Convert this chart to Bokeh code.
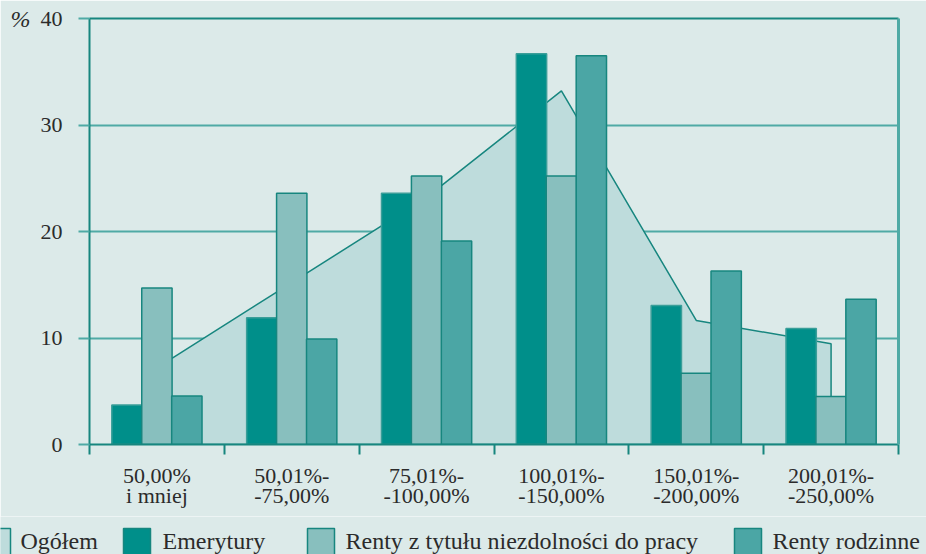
import numpy as np
from bokeh.plotting import figure
from bokeh.models import Range1d, FixedTicker, LinearAxis
from bokeh.layouts import column, row
from bokeh.embed import file_html
from bokeh.resources import INLINE
from bokeh.core.properties import value

# ---- data ----
categories = ["50,00%\ni mniej", "50,01%-\n-75,00%", "75,01%-\n-100,00%",
              "100,01%-\n-150,00%", "150,01%-\n-200,00%", "200,01%-\n-250,00%"]
ogolem = [7.2, 15.2, 23.2, 33.2, 11.65, 9.45]
emerytury = [3.7, 11.9, 23.6, 36.7, 13.05, 10.9]
renty_niezd = [14.7, 23.6, 25.2, 25.2, 6.7, 4.5]
renty_rodz = [4.55, 9.9, 19.1, 36.5, 16.3, 13.65]
y_ticks = [0, 10, 20, 30, 40]
unit_label = "%"
series_names = ["Ogółem", "Emerytury", "Renty z tytułu niezdolności do pracy", "Renty rodzinne"]

# ---- style ----
BG = "#DCEAE9"
EMER = "#008F8A"
NIEZD = "#88BFBE"
RODZ = "#4BA6A5"
OGOL = "#BEDCDC"
EDGE = "#17867F"
EDGE_LIGHT = "#3A9E99"
GRID = "#4FAAA5"
FONT = "Liberation Serif"
TXT = "#2B2B2B"

n = len(categories)
centers = np.arange(n) + 0.5

p = figure(width=926, height=516, x_range=Range1d(0, n), y_range=Range1d(0, 40),
           output_backend="svg", toolbar_location=None,
           min_border_left=89, min_border_right=28, min_border_top=18, min_border_bottom=72,
           background_fill_color=BG, border_fill_color=BG, outline_line_color=None)

# grid
p.xgrid.visible = False
p.ygrid.ticker = FixedTicker(ticks=y_ticks[1:])
p.ygrid.grid_line_color = GRID
p.ygrid.grid_line_width = 2

# area (Ogółem)
ax = np.concatenate([[centers[0]], centers, [centers[-1]]])
ay = np.concatenate([[0], ogolem, [0]])
p.patch(ax, ay, fill_color=OGOL, line_color=EDGE, line_width=1.5)

# bars
w = 0.225
off = 0.222
p.vbar(x=centers - off, top=emerytury, width=w, fill_color=EMER, line_color=EDGE_LIGHT, line_width=1.5)
p.vbar(x=centers, top=renty_niezd, width=w, fill_color=NIEZD, line_color=EDGE, line_width=1.5)
p.vbar(x=centers + off, top=renty_rodz, width=w, fill_color=RODZ, line_color=EDGE, line_width=1.5)

# x axis
xa = p.xaxis[0]
xa.ticker = FixedTicker(ticks=list(centers), minor_ticks=list(range(n + 1)))
xa.major_label_overrides = {float(c): lab for c, lab in zip(centers, categories)}
xa.major_tick_out = 0
xa.major_tick_in = 0
xa.minor_tick_out = 10
xa.minor_tick_in = 0
xa.minor_tick_line_color = EDGE
xa.minor_tick_line_width = 2
xa.axis_line_color = EDGE
xa.axis_line_width = 2
xa.major_label_text_font = FONT
xa.major_label_text_font_size = "22px"
xa.major_label_text_color = TXT
xa.major_label_text_line_height = 0.8
xa.major_label_standoff = 8

# y axis
ya = p.yaxis[0]
ya.ticker = FixedTicker(ticks=y_ticks)
ya.major_tick_out = 11
ya.major_tick_in = 0
ya.major_tick_line_color = GRID
ya.major_tick_line_width = 2
ya.minor_tick_line_color = None
ya.axis_line_color = EDGE
ya.axis_line_width = 2
ya.major_label_text_font = FONT
ya.major_label_text_font_size = "22px"
ya.major_label_text_color = TXT
ya.major_label_standoff = 16

# unit label "%" as an outer left axis with a single tick at the top
ua = LinearAxis(ticker=FixedTicker(ticks=[y_ticks[-1]]),
                major_label_overrides={y_ticks[-1]: unit_label},
                axis_line_color=None, major_tick_line_color=None, minor_tick_line_color=None,
                major_label_text_font=FONT, major_label_text_font_size="24px",
                major_label_text_font_style="italic", major_label_text_color=TXT,
                major_label_standoff=1)
p.add_layout(ua, "left")

# right and top frame lines
ra = LinearAxis(ticker=FixedTicker(ticks=[]), axis_line_color=GRID, axis_line_width=3,
                major_label_text_font_size="0px", major_tick_line_color=None,
                minor_tick_line_color=None)
p.add_layout(ra, "right")
ta = LinearAxis(ticker=FixedTicker(ticks=[]), axis_line_color=EDGE, axis_line_width=2,
                major_label_text_font_size="0px", major_tick_line_color=None,
                minor_tick_line_color=None)
p.add_layout(ta, "above")

# ---- legend row ----
lg = figure(width=926, height=38, x_range=Range1d(0, 926), y_range=Range1d(0, 38),
            output_backend="svg", toolbar_location=None, x_axis_type=None, y_axis_type=None,
            min_border=0, background_fill_color=BG, border_fill_color=BG,
            outline_line_color=None)
lg.grid.visible = False
sw_left = np.array([-17, 123, 307, 734])
txt_x = [20, 162, 345, 772]
sw_colors = [OGOL, EMER, NIEZD, RODZ]
lg.quad(left=sw_left, right=sw_left + 27, bottom=-10, top=26, fill_color=sw_colors,
        line_color=EDGE, line_width=1.5)
lg.text(x=txt_x, y=[14] * 4, text=series_names, text_font=value(FONT), text_font_size="24px",
        text_color=TXT, text_baseline="alphabetic", text_align="left")

layout = column(p, row(lg), spacing=0)
open("out.html", "w").write(file_html(layout, INLINE))
